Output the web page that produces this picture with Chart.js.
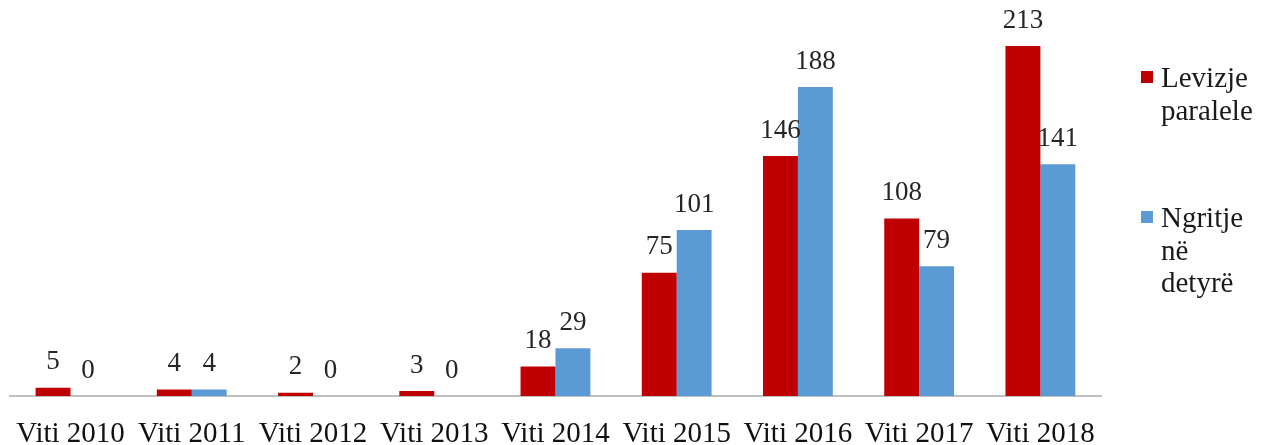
<!DOCTYPE html>
<html>
<head>
<meta charset="utf-8">
<script src="https://cdn.jsdelivr.net/npm/chart.js@4.4.0/dist/chart.umd.min.js"></script>
<style>
   body { margin: 0; background: #fff; }
   #wrap { position: relative; width: 1272px; height: 445px; overflow: hidden; }
   #legend { position: absolute; left: 1141px; top: 61px; font-family: 'Liberation Serif', serif; font-size: 29px; line-height: 32.5px; color: #1a1a1a; }
   #legend .item { display: flex; align-items: flex-start; margin-bottom: 75px; }
   #legend .box { width: 12px; height: 12px; margin-top: 10px; margin-right: 8px; flex: none; }
</style>
</head>
<body>
<div id="wrap">
   <canvas id="barChart" width="1272" height="465"></canvas>
   <div id="legend"></div>
</div>
<script>
const years = ['Viti 2010', 'Viti 2011', 'Viti 2012', 'Viti 2013', 'Viti 2014', 'Viti 2015', 'Viti 2016', 'Viti 2017', 'Viti 2018'];
const levizjeParalele = [5, 4, 2, 3, 18, 75, 146, 108, 213];
const ngritjeNeDetyre = [0, 4, 0, 0, 29, 101, 188, 79, 141];
const seriesNames = [['Levizje', 'paralele'], ['Ngritje', 'në', 'detyrë']];

const red = '#C00000';
const blue = '#5B9BD5';

// value labels above each bar
const barLabels = {
   id: 'barLabels',
   afterDatasetsDraw(chart) {
      const c = chart.ctx;
      c.save();
      c.font = '27px "Liberation Serif", serif';
      c.fillStyle = '#262626';
      c.textAlign = 'center';
      c.textBaseline = 'bottom';
      chart.data.datasets.forEach((ds, i) => {
         chart.getDatasetMeta(i).data.forEach((bar, j) => {
            c.fillText(ds.data[j], bar.x, bar.y - 12);
         });
      });
      c.restore();
   }
};

const ctx = document.getElementById('barChart').getContext('2d');

const barChart = new Chart(ctx, {
   type: 'bar',
   data: {
      labels: years,
      datasets: [
         { label: seriesNames[0].join(' '), data: levizjeParalele, backgroundColor: red },
         { label: seriesNames[1].join(' '), data: ngritjeNeDetyre, backgroundColor: blue },
      ],
   },
   options: {
      responsive: false,
      animation: false,
      layout: { padding: { left: 4, right: 171, top: 0, bottom: 0 } },
      datasets: { bar: { categoryPercentage: 0.576, barPercentage: 1 } },
      plugins: { legend: { display: false }, tooltip: { enabled: false } },
      scales: {
         x: {
            grid: { display: false },
            border: { display: true, color: '#BFBFBF', width: 2 },
            ticks: {
               color: '#111',
               padding: 16,
               maxRotation: 0,
               font: { family: 'Liberation Serif', size: 29, lineHeight: 1 },
            },
         },
         y: {
            display: false,
            min: 0,
            max: 241,
         },
      },
   },
   plugins: [barLabels],
});

// legend with wrapped names
const legend = document.getElementById('legend');
[red, blue].forEach((color, i) => {
   const item = document.createElement('div');
   item.className = 'item';
   item.innerHTML = '<span class="box" style="background:' + color + '"></span><span>' + seriesNames[i].join('<br>') + '</span>';
   legend.appendChild(item);
});
</script>
</body>
</html>
